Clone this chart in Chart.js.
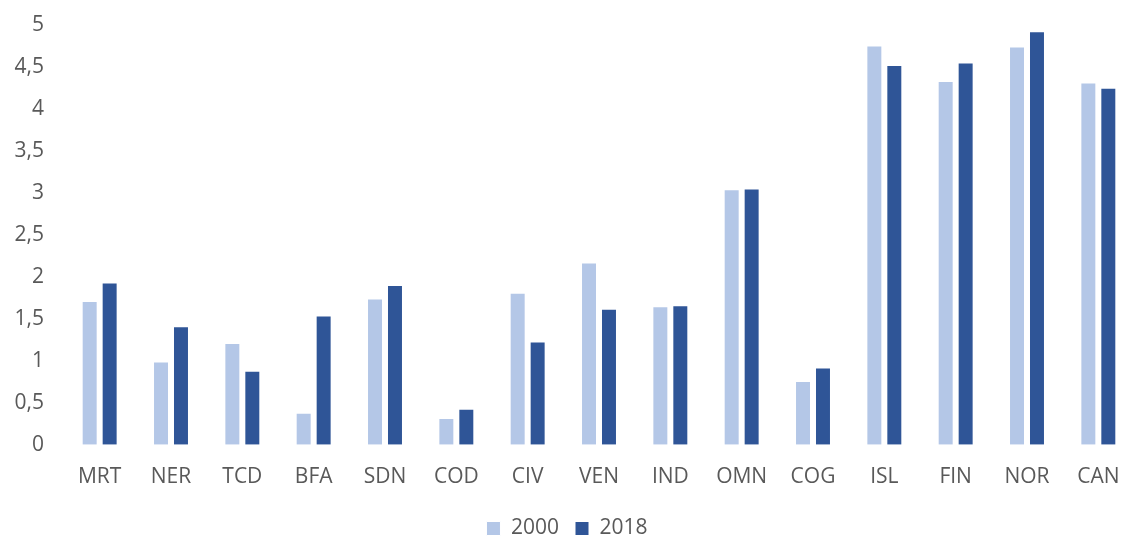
<!DOCTYPE html>
<html>
<head>
<meta charset="utf-8">
<script src="https://cdn.jsdelivr.net/npm/chart.js@4"></script>
<style>
  html, body { margin: 0; padding: 0; background: #fff; overflow: hidden; }
  #wrap { width: 1134px; height: 536px; }
</style>
</head>
<body>
<div id="wrap"><canvas id="chart"></canvas></div>
<script>
const countries = ['MRT', 'NER', 'TCD', 'BFA', 'SDN', 'COD', 'CIV', 'VEN', 'IND', 'OMN', 'COG', 'ISL', 'FIN', 'NOR', 'CAN']
const values2000 = [1.71, 0.99, 1.21, 0.38, 1.74, 0.32, 1.81, 2.17, 1.65, 3.04, 0.76, 4.75, 4.33, 4.74, 4.31]
const values2018 = [1.93, 1.41, 0.88, 1.54, 1.90, 0.43, 1.23, 1.62, 1.66, 3.05, 0.92, 4.52, 4.55, 4.92, 4.25]

Chart.defaults.font.family = 'Open Sans, Lato, sans-serif'
Chart.defaults.color = '#595959'

new Chart('chart', {
  type: 'bar',
  data: {
    labels: countries,
    datasets: [{
      label: '2000',
      data: values2000,
      backgroundColor: '#B4C7E7',
      borderColor: '#ffffff',
      borderWidth: 1,
      barPercentage: 0.8,
      categoryPercentage: 0.56
    }, {
      label: '2018',
      data: values2018,
      backgroundColor: '#2F5597',
      borderColor: '#ffffff',
      borderWidth: 1,
      barPercentage: 0.8,
      categoryPercentage: 0.56
    }]
  },
  options: {
    responsive: true,
    maintainAspectRatio: false,
    animation: false,
    layout: {
      padding: { top: 6, right: 0, bottom: -13, left: 0 }
    },
    scales: {
      x: {
        grid: { display: false },
        border: { display: false },
        ticks: { font: { size: 21 }, padding: 12, color: '#595959' }
      },
      y: {
        min: 0,
        max: 5,
        grid: { display: false },
        border: { display: false },
        afterFit: axis => { axis.width = 64 },
        ticks: {
          stepSize: 0.5,
          font: { size: 21 },
          padding: 12,
          color: '#595959',
          callback: v => String(v).replace('.', ',')
        }
      }
    },
    plugins: {
      legend: {
        position: 'bottom',
        labels: {
          font: { size: 21 },
          boxWidth: 14,
          boxHeight: 14,
          padding: 16,
          color: '#595959'
        }
      },
      tooltip: { enabled: false }
    }
  }
})
</script>
</body>
</html>
